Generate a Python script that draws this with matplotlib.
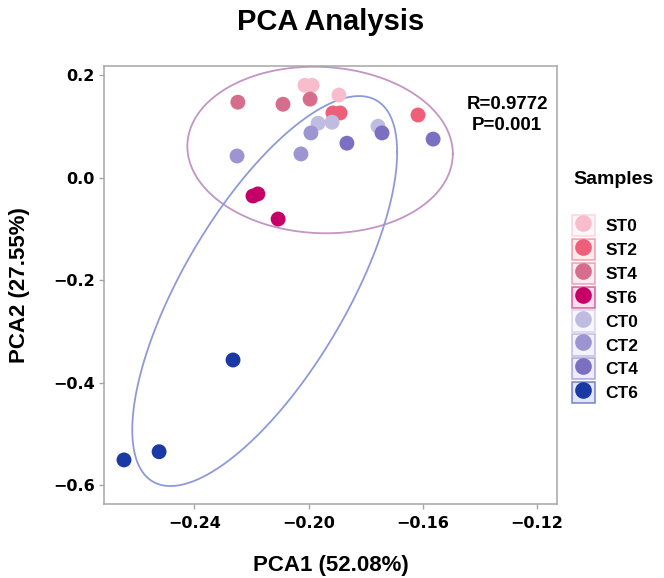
import numpy as np
import matplotlib
matplotlib.use("Agg")
import matplotlib.pyplot as plt
from matplotlib.patches import Rectangle
from matplotlib.lines import Line2D
from matplotlib.legend_handler import HandlerTuple
from matplotlib.colors import to_rgba
from matplotlib.ticker import FuncFormatter

#campioni e colori della legenda
campioni = ["ST0", "ST2", "ST4", "ST6", "CT0", "CT2", "CT4", "CT6"]
colori = ["#F8BDCD", "#EF5F79", "#D76D8D", "#C70069",
          "#C0BBE1", "#9D95D1", "#7A6FC1", "#1B39A4"]

#tre repliche per campione: etichetta, PCA1, PCA2
etichette = ["ST0"] * 3 + ["ST2"] * 3 + ["ST4"] * 3 + ["ST6"] * 3 + \
            ["CT0"] * 3 + ["CT2"] * 3 + ["CT4"] * 3 + ["CT6"] * 3
pca1 = [-0.2013, -0.1988, -0.1894,
        -0.1915, -0.1890, -0.1617,
        -0.2248, -0.2090, -0.1995,
        -0.2195, -0.2178, -0.2107,
        -0.1967, -0.1918, -0.1757,
        -0.2251, -0.2027, -0.1992,
        -0.1866, -0.1743, -0.1564,
        -0.2265, -0.2524, -0.2647]
pca2 = [0.180, 0.180, 0.161,
        0.126, 0.126, 0.122,
        0.147, 0.143, 0.153,
        -0.036, -0.032, -0.081,
        0.106, 0.108, 0.100,
        0.042, 0.046, 0.087,
        0.067, 0.087, 0.075,
        -0.356, -0.535, -0.551]

#ellissi dei due gruppi: centro, semiassi lungo x e y, correlazione
gruppi = ["ST", "CT"]
ell_cx = [-0.1960, -0.2154]
ell_cy = [0.0537, -0.2215]
ell_hx = [0.0465, 0.0464]
ell_hy = [0.1625, 0.3805]
ell_r = [-0.045, 0.712]
ell_colori = ["#C395C5", "#8E9AD8"]

#varianza spiegata e test
var_pca1 = 52.08
var_pca2 = 27.55
R_stat = 0.9772
P_val = 0.001

plt.rcParams['font.family'] = ['Liberation Sans', 'DejaVu Sans']

fig = plt.figure(figsize=(6.64, 5.78), dpi=100)
ax = fig.add_axes([104 / 664, 1 - 504 / 578, 453 / 664, 438 / 578])

#prima le ellissi, poi i punti sopra
t = np.linspace(0, 2 * np.pi, 300)
for cx, cy, hx, hy, r, c in zip(ell_cx, ell_cy, ell_hx, ell_hy, ell_r, ell_colori):
    ex = cx + hx * np.cos(t)
    ey = cy + hy * (r * np.cos(t) + np.sqrt(1 - r ** 2) * np.sin(t))
    ax.plot(ex, ey, color=c, lw=1.3, zorder=2)

pca1 = np.array(pca1)
pca2 = np.array(pca2)
etichette = np.array(etichette)
for nome, c in zip(campioni, colori):
    sel = etichette == nome
    ax.scatter(pca1[sel], pca2[sel], s=115, color=c, edgecolors='none', zorder=3)

ax.set_xlim(-0.2717, -0.1130)
ax.set_ylim(-0.637, 0.2176)
ax.set_xticks([-0.24, -0.20, -0.16, -0.12])
ax.set_yticks([0.2, 0.0, -0.2, -0.4, -0.6])
ax.xaxis.set_major_formatter(FuncFormatter(lambda v, p: f"{v:.2f}".replace("-", "\u2212")))
ax.yaxis.set_major_formatter(FuncFormatter(lambda v, p: f"{v:.1f}".replace("-", "\u2212")))

for s in ax.spines.values():
    s.set_color("#A6A6A6")
    s.set_linewidth(1.1)
ax.tick_params(colors="#A6A6A6", length=3.5, width=1.0, pad=3, labelcolor="black")
ax.tick_params(axis='x', pad=5)
for lab in ax.get_xticklabels() + ax.get_yticklabels():
    lab.set_fontfamily("DejaVu Sans")
    lab.set_fontweight("bold")
    lab.set_fontsize(11.5)

#testo con R e P
ax.text(0.89, 0.888, f"R={R_stat}\nP={P_val}", transform=ax.transAxes,
        ha='center', va='center', fontsize=13.5, fontweight='bold', linespacing=1.35)

#titolo ed etichette degli assi
fig.text(331 / 664, 1 - 22 / 578, "PCA Analysis", ha='center', va='center',
         fontsize=21, fontweight='bold')
fig.text(331 / 664, 1 - 565 / 578, f"PCA1 ({var_pca1:.2f}%)", ha='center', va='center',
         fontsize=16, fontweight='bold')
fig.text(20 / 664, 1 - 285 / 578, f"PCA2 ({var_pca2:.2f}%)", ha='center', va='center',
         rotation=90, fontsize=16, fontweight='bold')

#legenda: quadratino colorato con il punto dentro
maniglie = []
for c in colori:
    box = Rectangle((0, 0), 1, 1, facecolor=to_rgba(c, 0.12), edgecolor=to_rgba(c, 0.55), linewidth=1.2)
    punto = Line2D([], [], linestyle='none', marker='o', markersize=12,
                   markerfacecolor=c, markeredgecolor='none')
    maniglie.append((box, punto))

fig.text(573 / 664, 1 - 180 / 578, "Samples", ha='left', va='center',
         fontsize=14, fontweight='bold')
fig.legend(maniglie, campioni, loc='upper left', bbox_to_anchor=(572 / 664, 1 - 215 / 578),
           frameon=False, borderpad=0, borderaxespad=0, handlelength=1.3, handleheight=1.52,
           handletextpad=0.62, labelspacing=0.14,
           prop=dict(family='Liberation Sans', weight='bold', size=12.5),
           handler_map={tuple: HandlerTuple(ndivide=1, pad=0)})

fig.savefig("out.png", dpi=100)
